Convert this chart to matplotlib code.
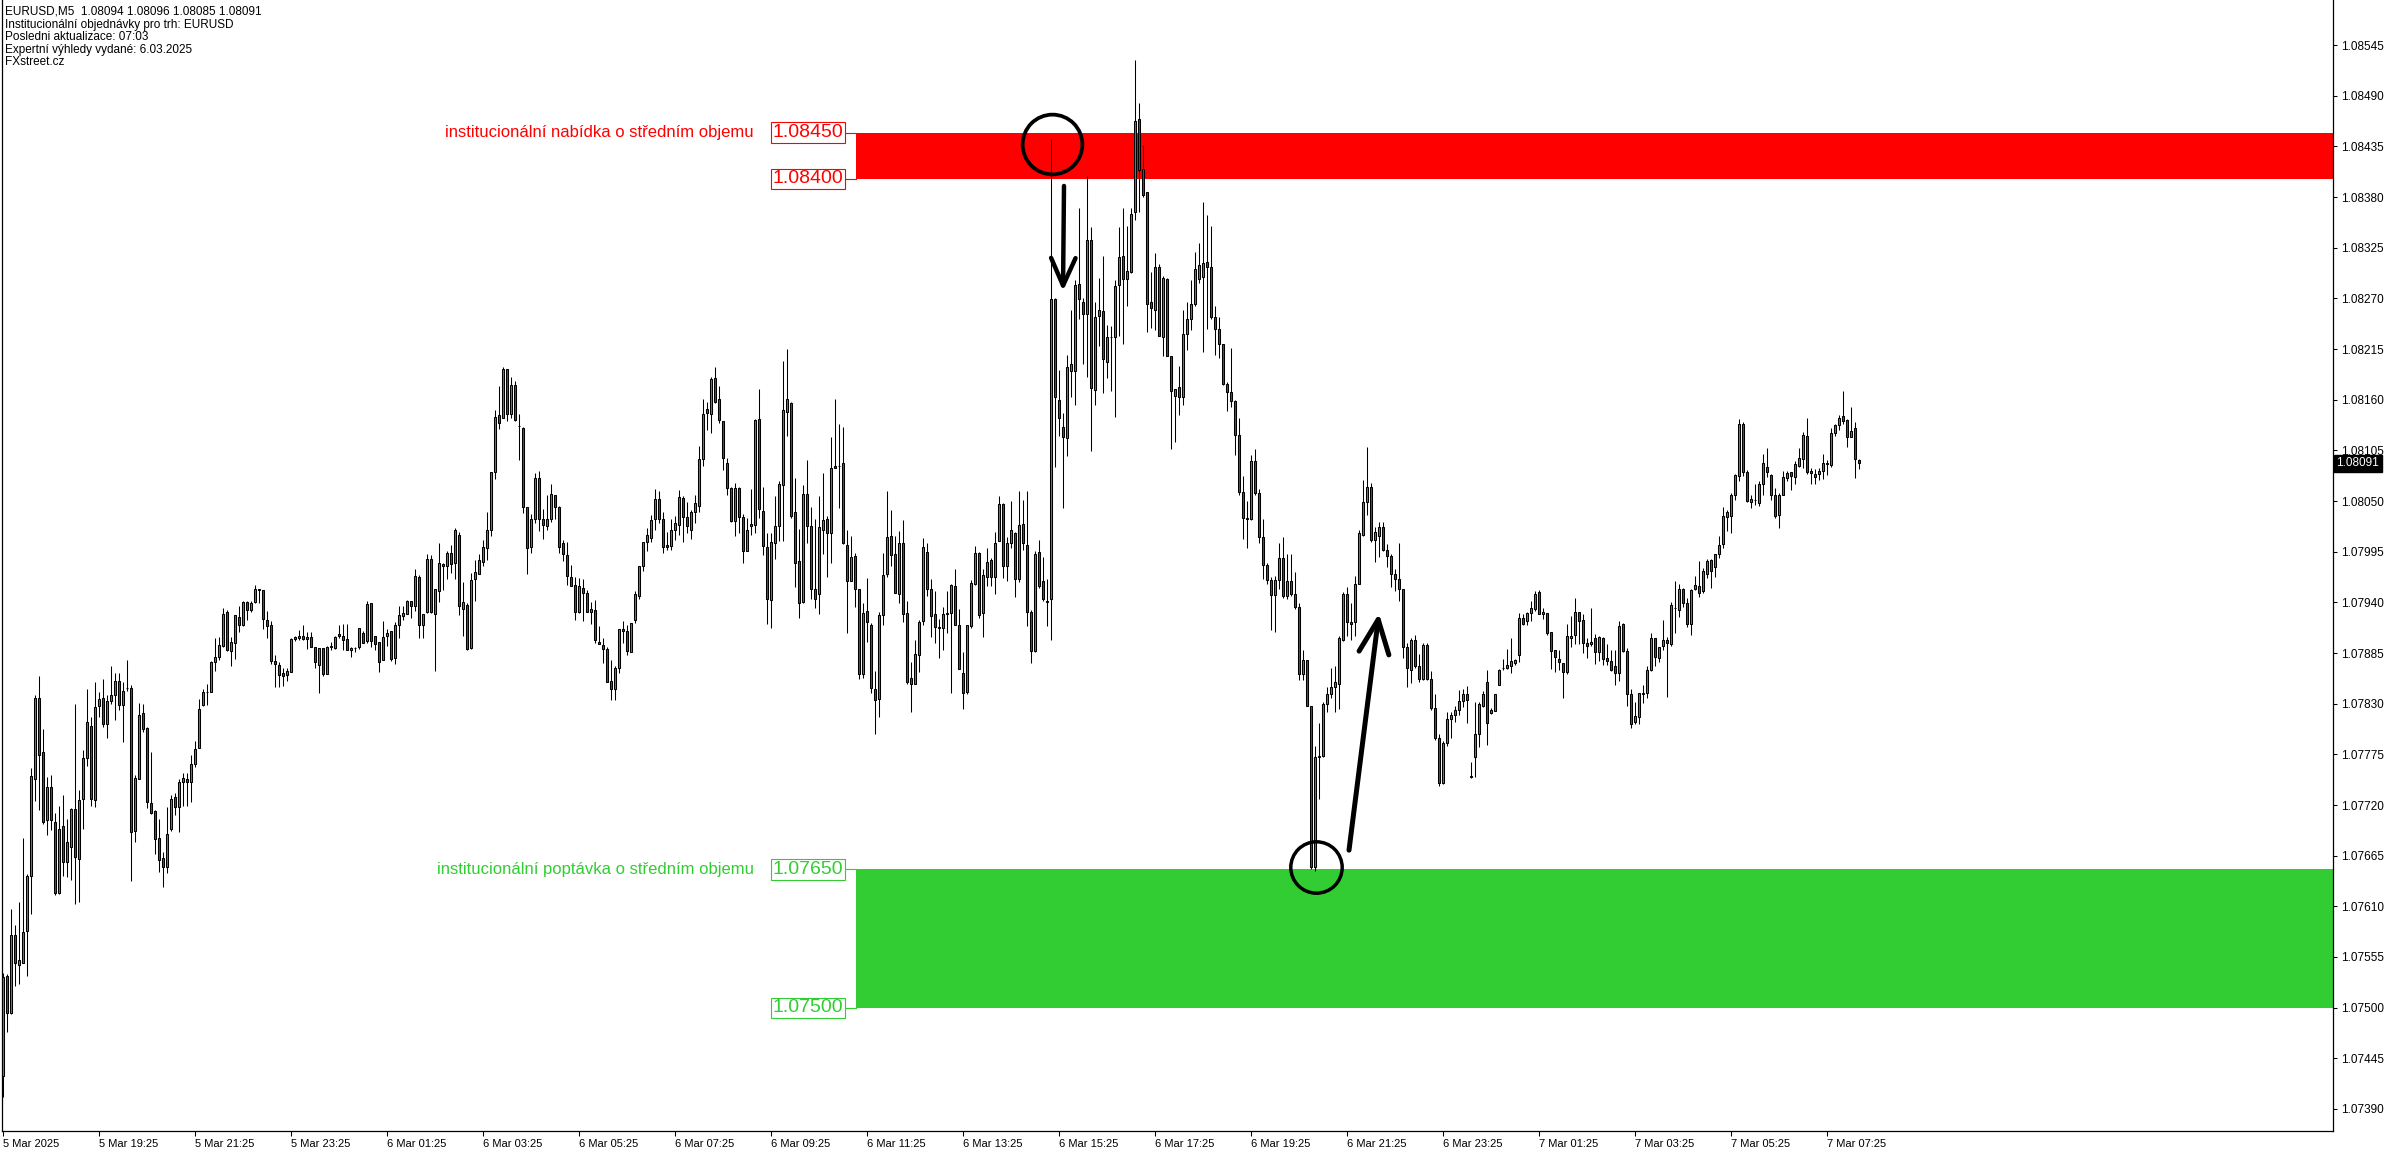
import matplotlib
matplotlib.use("Agg")
import matplotlib.pyplot as plt
import matplotlib.transforms as mtransforms
from matplotlib.patches import Rectangle
import numpy as np

plt.rcParams["font.family"] = ["Liberation Sans", "DejaVu Sans"]

# EURUSD M5 bars, 5 Mar 2025 17:25 onwards.
# values are points above 1.0:  price = 1 + pts / 100000
OPEN = [
    7426, 7534, 7494, 7579, 7546, 7549, 7583, 7643, 7748, 7836,
    7777, 7704, 7740, 7702, 7625, 7697, 7658, 7674, 7716, 7661,
    7727, 7771, 7806, 7725, 7828, 7836, 7808, 7833, 7839, 7855,
    7829, 7847, 7847, 7692, 7748, 7820, 7804, 7722, 7713, 7684,
    7662, 7653, 7694, 7729, 7718, 7745, 7748, 7745, 7765, 7782,
    7829, 7843, 7843, 7875, 7881, 7893, 7929, 7887, 7896, 7924,
    7915, 7940, 7932, 7940, 7955, 7953, 7921, 7915, 7876, 7872,
    7863, 7861, 7864, 7900, 7901, 7903, 7900, 7902, 7892, 7872,
    7890, 7862, 7892, 7890, 7906, 7904, 7900, 7888, 7890, 7892,
    7907, 7898, 7939, 7904, 7897, 7877, 7903, 7909, 7880, 7915,
    7925, 7927, 7942, 7936, 7968, 7915, 7929, 7987, 7927, 7952,
    7982, 7979, 7994, 7983, 8013, 7933, 7937, 7890, 7965, 7971,
    7984, 7999, 8019, 8081, 8143, 8140, 8193, 8145, 8176, 8131,
    8129, 8043, 8000, 8030, 8075, 8030, 8023, 8031, 8057, 8044,
    8004, 7991, 7968, 7959, 7929, 7956, 7950, 7929, 7932, 7897,
    7894, 7889, 7855, 7846, 7869, 7911, 7909, 7886, 7921, 7947,
    7979, 8005, 8010, 8030, 8052, 8030, 8002, 8001, 8019, 8024,
    8053, 8033, 8019, 8038, 8045, 8096, 8150, 8145, 8184, 8161,
    8137, 8091, 8064, 8028, 8064, 8033, 7996, 8023, 8024, 8139,
    8039, 8000, 7943, 8004, 8023, 8067, 8147, 8156, 8038, 7985,
    7940, 8058, 8023, 7955, 7949, 8018, 8030, 8015, 8088, 8088,
    8091, 8002, 7963, 7990, 7954, 7862, 7931, 7915, 7846, 7835,
    7926, 7971, 8012, 7993, 7949, 8004, 7928, 7858, 7851, 7883,
    7920, 7995, 7955, 7927, 7913, 7912, 7927, 7928, 7958, 7915,
    7863, 7843, 7914, 7960, 7994, 7928, 7968, 7986, 7968, 8007,
    8047, 7979, 8004, 8015, 7965, 8025, 8002, 7929, 7887, 7995,
    7963, 7941, 7944, 8269, 8160, 8130, 8118, 8191, 8191, 8286,
    8266, 8253, 8333, 8170, 8251, 8256, 8201, 8228, 8228, 8284,
    8316, 8291, 8299, 8364, 8465, 8410, 8385, 8266, 8257, 8304,
    8228, 8291, 8207, 8164, 8174, 8163, 8231, 8248, 8264, 8291,
    8293, 8309, 8304, 8250, 8237, 8221, 8177, 8168, 8159, 8122,
    8060, 8032, 8030, 8093, 8059, 8011, 7980, 7964, 7948, 7964,
    7988, 7947, 7963, 7949, 7935, 7862, 7877, 7828, 7653, 7772,
    7773, 7830, 7841, 7848, 7851, 7899, 7949, 7919, 7919, 7960,
    8013, 8049, 8065, 8008, 8012, 8022, 7997, 7990, 7971, 7965,
    7955, 7892, 7867, 7899, 7871, 7857, 7894, 7857, 7825, 7793,
    7744, 7787, 7813, 7818, 7823, 7833, 7841, 7752, 7772, 7797,
    7828, 7853, 7820, 7822, 7850, 7869, 7869, 7871, 7874, 7883,
    7923, 7920, 7928, 7933, 7951, 7927, 7928, 7908, 7888, 7878,
    7874, 7864, 7901, 7905, 7929, 7921, 7896, 7895, 7901, 7886,
    7901, 7880, 7876, 7871, 7863, 7916, 7887, 7840, 7810, 7816,
    7841, 7842, 7867, 7901, 7880, 7893, 7899, 7895, 7934, 7932,
    7955, 7939, 7917, 7954, 7958, 7952, 7971, 7986, 7978, 7993,
    8003, 8033, 8034, 8056, 8077, 8134, 8082, 8049, 8051, 8048,
    8068, 8087, 8078, 8056, 8035, 8057, 8075, 8081, 8076, 8088,
    8096, 8121, 8083, 8079, 8079, 8083, 8090, 8089, 8124, 8132,
    8142, 8138, 8120, 8129, 8094,
]
HIGH = [
    7538, 7536, 7607, 7590, 7615, 7684, 7645, 7760, 7839, 7860,
    7803, 7750, 7753, 7711, 7719, 7731, 7705, 7717, 7830, 7736,
    7780, 7846, 7815, 7854, 7843, 7857, 7839, 7871, 7863, 7863,
    7854, 7877, 7850, 7753, 7831, 7830, 7805, 7777, 7715, 7705,
    7669, 7718, 7731, 7733, 7748, 7755, 7755, 7774, 7790, 7835,
    7846, 7851, 7876, 7901, 7902, 7934, 7932, 7902, 7926, 7936,
    7942, 7941, 7941, 7959, 7955, 7953, 7931, 7920, 7883, 7875,
    7869, 7869, 7901, 7904, 7910, 7915, 7908, 7908, 7892, 7890,
    7890, 7893, 7897, 7904, 7915, 7916, 7917, 7892, 7892, 7912,
    7909, 7942, 7939, 7904, 7897, 7920, 7911, 7909, 7919, 7936,
    7936, 7943, 7942, 7976, 7970, 7927, 7992, 7991, 7955, 8004,
    7983, 7996, 8002, 8021, 8016, 7962, 7939, 7972, 7986, 7992,
    8008, 8038, 8082, 8149, 8175, 8196, 8193, 8185, 8180, 8145,
    8130, 8043, 8036, 8080, 8083, 8041, 8057, 8069, 8057, 8045,
    8008, 8005, 7980, 7967, 7966, 7965, 7953, 7940, 7943, 7914,
    7901, 7891, 7877, 7871, 7911, 7920, 7915, 7918, 7952, 7979,
    8005, 8021, 8035, 8063, 8061, 8038, 8016, 8031, 8034, 8062,
    8055, 8049, 8040, 8057, 8110, 8161, 8157, 8185, 8195, 8175,
    8137, 8097, 8065, 8070, 8065, 8036, 8032, 8063, 8139, 8172,
    8065, 8015, 8015, 8055, 8072, 8202, 8215, 8158, 8075, 8020,
    8067, 8094, 8044, 8030, 8055, 8080, 8034, 8119, 8161, 8134,
    8130, 8019, 8012, 7994, 7954, 7939, 7966, 7918, 7866, 7929,
    7994, 8061, 8040, 8012, 8017, 8029, 7941, 7875, 7899, 7921,
    8010, 8004, 7965, 7952, 7922, 7935, 7952, 7960, 7976, 7933,
    7886, 7915, 7964, 8001, 7995, 7976, 7999, 7988, 8016, 8055,
    8048, 8011, 8050, 8016, 8061, 8051, 8061, 7932, 7996, 8008,
    7989, 7965, 8443, 8270, 8192, 8146, 8209, 8257, 8290, 8368,
    8270, 8403, 8348, 8266, 8292, 8316, 8241, 8240, 8290, 8348,
    8368, 8349, 8368, 8529, 8482, 8437, 8385, 8299, 8319, 8307,
    8294, 8292, 8207, 8172, 8197, 8257, 8266, 8290, 8320, 8330,
    8375, 8361, 8349, 8262, 8250, 8221, 8179, 8216, 8160, 8140,
    8077, 8050, 8100, 8106, 8063, 8031, 7983, 7968, 7969, 8004,
    8011, 7993, 7992, 7973, 7939, 7888, 7877, 7828, 7784, 7809,
    7832, 7848, 7869, 7871, 7904, 7951, 7957, 7939, 7969, 8019,
    8073, 8109, 8070, 8022, 8027, 8027, 8003, 7992, 7976, 8004,
    7955, 7896, 7901, 7905, 7884, 7896, 7896, 7866, 7840, 7797,
    7789, 7821, 7821, 7827, 7845, 7846, 7849, 7767, 7832, 7832,
    7844, 7867, 7825, 7841, 7868, 7878, 7889, 7901, 7878, 7928,
    7927, 7929, 7941, 7952, 7953, 7934, 7928, 7908, 7888, 7888,
    7874, 7916, 7925, 7945, 7929, 7927, 7901, 7934, 7906, 7904,
    7902, 7895, 7888, 7888, 7920, 7918, 7890, 7846, 7832, 7842,
    7850, 7871, 7907, 7901, 7892, 7921, 7902, 7940, 7963, 7960,
    7956, 7945, 7955, 7969, 7985, 7977, 7987, 7987, 7993, 8012,
    8044, 8040, 8059, 8079, 8139, 8136, 8084, 8056, 8068, 8072,
    8101, 8108, 8079, 8064, 8059, 8083, 8083, 8082, 8093, 8108,
    8125, 8140, 8086, 8085, 8086, 8101, 8094, 8129, 8134, 8143,
    8169, 8139, 8152, 8136, 8096,
]
LOW = [
    7403, 7474, 7493, 7523, 7526, 7548, 7534, 7602, 7724, 7715,
    7699, 7687, 7693, 7622, 7623, 7643, 7642, 7639, 7612, 7615,
    7694, 7762, 7719, 7718, 7815, 7805, 7793, 7830, 7812, 7823,
    7788, 7844, 7638, 7680, 7748, 7799, 7717, 7710, 7667, 7647,
    7631, 7646, 7692, 7709, 7691, 7719, 7719, 7723, 7761, 7782,
    7828, 7829, 7843, 7865, 7877, 7892, 7887, 7871, 7879, 7908,
    7914, 7921, 7929, 7939, 7939, 7911, 7901, 7873, 7848, 7848,
    7849, 7855, 7864, 7898, 7899, 7899, 7889, 7892, 7869, 7842,
    7860, 7862, 7888, 7889, 7901, 7888, 7888, 7881, 7886, 7889,
    7896, 7896, 7892, 7888, 7864, 7877, 7893, 7876, 7873, 7901,
    7921, 7927, 7923, 7931, 7901, 7901, 7928, 7928, 7865, 7940,
    7953, 7965, 7972, 7965, 7926, 7904, 7888, 7889, 7941, 7971,
    7979, 7986, 8012, 8074, 8128, 8140, 8137, 8140, 8137, 8094,
    8037, 7971, 7994, 8026, 8017, 8009, 8019, 8027, 8031, 7994,
    7985, 7959, 7958, 7921, 7928, 7920, 7929, 7917, 7896, 7895,
    7874, 7854, 7834, 7834, 7863, 7896, 7883, 7886, 7918, 7944,
    7974, 7996, 8006, 8019, 8026, 7994, 7997, 7997, 8008, 8013,
    8006, 8015, 8009, 8026, 8038, 8088, 8127, 8124, 8156, 8135,
    8084, 8056, 8027, 8012, 8015, 7983, 7996, 8013, 8015, 8032,
    7991, 7916, 7912, 7987, 8007, 8007, 8121, 8032, 7957, 7923,
    7939, 8004, 7944, 7934, 7927, 7993, 7968, 7983, 8086, 8042,
    8003, 7907, 7963, 7935, 7857, 7858, 7897, 7842, 7797, 7816,
    7915, 7968, 7979, 7950, 7939, 7919, 7851, 7821, 7851, 7864,
    7915, 7947, 7902, 7896, 7880, 7888, 7907, 7842, 7915, 7868,
    7824, 7840, 7912, 7959, 7923, 7902, 7958, 7958, 7949, 8007,
    7966, 7963, 7999, 7946, 7962, 7997, 7914, 7874, 7886, 7956,
    7942, 7914, 7899, 8087, 8121, 8042, 8099, 8163, 8154, 8248,
    8199, 8185, 8104, 8154, 8218, 8167, 8184, 8169, 8141, 8229,
    8220, 8262, 8297, 8355, 8364, 8380, 8234, 8238, 8236, 8229,
    8207, 8207, 8106, 8114, 8143, 8154, 8214, 8236, 8262, 8287,
    8212, 8237, 8248, 8208, 8205, 8176, 8148, 8152, 8100, 8057,
    8009, 7999, 8029, 8056, 8004, 7965, 7960, 7910, 7908, 7955,
    7945, 7944, 7947, 7933, 7856, 7856, 7827, 7651, 7648, 7727,
    7772, 7821, 7836, 7821, 7824, 7898, 7903, 7899, 7904, 7960,
    8012, 8035, 8005, 7984, 7989, 7996, 7978, 7957, 7952, 7942,
    7880, 7848, 7852, 7869, 7853, 7856, 7856, 7823, 7791, 7741,
    7743, 7784, 7793, 7810, 7818, 7826, 7809, 7749, 7750, 7783,
    7826, 7785, 7819, 7822, 7850, 7867, 7868, 7863, 7872, 7875,
    7915, 7915, 7920, 7931, 7927, 7922, 7905, 7868, 7864, 7867,
    7836, 7862, 7892, 7895, 7895, 7885, 7880, 7893, 7873, 7876,
    7872, 7872, 7866, 7850, 7855, 7886, 7827, 7804, 7808, 7808,
    7831, 7836, 7866, 7871, 7875, 7888, 7837, 7893, 7907, 7924,
    7935, 7913, 7905, 7953, 7946, 7950, 7966, 7956, 7967, 7988,
    7999, 8017, 8015, 8051, 8072, 8077, 8049, 8042, 8046, 8045,
    8056, 8076, 8051, 8032, 8021, 8056, 8072, 8062, 8068, 8087,
    8086, 8079, 8068, 8068, 8073, 8074, 8078, 8087, 8121, 8127,
    8134, 8109, 8119, 8075, 8085,
]
CLOSE = [
    7533, 7494, 7579, 7549, 7552, 7582, 7643, 7751, 7836, 7774,
    7702, 7739, 7704, 7625, 7694, 7658, 7680, 7716, 7664, 7725,
    7771, 7810, 7726, 7826, 7835, 7808, 7833, 7839, 7855, 7829,
    7844, 7847, 7691, 7749, 7818, 7803, 7723, 7711, 7683, 7660,
    7653, 7689, 7727, 7718, 7745, 7749, 7745, 7765, 7781, 7824,
    7843, 7843, 7875, 7881, 7894, 7927, 7888, 7897, 7926, 7915,
    7940, 7932, 7939, 7955, 7953, 7922, 7914, 7876, 7873, 7861,
    7860, 7866, 7900, 7902, 7904, 7900, 7902, 7892, 7875, 7890,
    7862, 7892, 7893, 7902, 7903, 7899, 7888, 7890, 7890, 7912,
    7896, 7938, 7898, 7895, 7875, 7902, 7907, 7878, 7915, 7926,
    7928, 7942, 7936, 7969, 7915, 7927, 7987, 7929, 7955, 7983,
    7979, 7994, 7982, 8019, 7936, 7940, 7889, 7964, 7973, 7986,
    8000, 8019, 8082, 8141, 8135, 8193, 8144, 8176, 8138, 8131,
    8043, 7999, 8031, 8075, 8030, 8024, 8031, 8058, 8044, 8000,
    7992, 7969, 7958, 7930, 7958, 7950, 7930, 7933, 7899, 7895,
    7889, 7854, 7846, 7869, 7911, 7909, 7887, 7918, 7949, 7979,
    8005, 8013, 8029, 8052, 8031, 8000, 8000, 8019, 8026, 8054,
    8033, 8023, 8038, 8048, 8096, 8145, 8146, 8183, 8158, 8138,
    8097, 8064, 8028, 8064, 8033, 7996, 8019, 8025, 8138, 8041,
    8001, 7944, 8005, 8023, 8069, 8149, 8161, 8034, 7983, 7939,
    8058, 8023, 7955, 7944, 8022, 8029, 8015, 8086, 8086, 8088,
    8004, 7963, 7989, 7955, 7862, 7928, 7919, 7847, 7834, 7926,
    7970, 8011, 7991, 7950, 8004, 7927, 7854, 7851, 7884, 7919,
    8000, 7954, 7925, 7913, 7912, 7927, 7928, 7959, 7915, 7868,
    7842, 7915, 7961, 7994, 7926, 7970, 7984, 7968, 8004, 8047,
    7979, 8004, 8018, 7965, 8024, 8004, 7929, 7887, 7993, 7958,
    7944, 7940, 8269, 8163, 8140, 8119, 8195, 8199, 8285, 8269,
    8253, 8333, 8173, 8250, 8257, 8204, 8228, 8228, 8283, 8315,
    8291, 8300, 8362, 8463, 8409, 8382, 8264, 8259, 8304, 8229,
    8292, 8207, 8169, 8172, 8163, 8231, 8248, 8264, 8302, 8306,
    8308, 8304, 8250, 8237, 8221, 8177, 8168, 8159, 8122, 8060,
    8032, 8031, 8093, 8059, 8011, 7980, 7964, 7948, 7964, 7988,
    7947, 7963, 7949, 7935, 7862, 7877, 7828, 7653, 7772, 7773,
    7830, 7841, 7848, 7853, 7901, 7949, 7919, 7917, 7960, 8015,
    8049, 8065, 8008, 8016, 8022, 7997, 7990, 7971, 7965, 7955,
    7892, 7869, 7899, 7871, 7857, 7894, 7857, 7825, 7793, 7744,
    7787, 7813, 7818, 7823, 7833, 7840, 7834, 7750, 7797, 7830,
    7841, 7809, 7823, 7841, 7867, 7869, 7872, 7876, 7877, 7923,
    7917, 7928, 7934, 7949, 7927, 7930, 7907, 7887, 7881, 7875,
    7864, 7903, 7903, 7929, 7920, 7896, 7893, 7897, 7886, 7902,
    7879, 7876, 7867, 7863, 7914, 7887, 7840, 7808, 7817, 7842,
    7842, 7867, 7901, 7881, 7892, 7899, 7896, 7937, 7934, 7954,
    7939, 7917, 7953, 7959, 7950, 7974, 7985, 7974, 7992, 8002,
    8034, 8038, 8056, 8078, 8134, 8082, 8050, 8052, 8051, 8069,
    8091, 8081, 8057, 8034, 8057, 8076, 8080, 8077, 8090, 8097,
    8122, 8082, 8080, 8076, 8083, 8091, 8091, 8124, 8133, 8140,
    8137, 8119, 8126, 8096, 8091,
]

TIME_LABELS = [
    "5 Mar 2025", "5 Mar 19:25", "5 Mar 21:25", "5 Mar 23:25",
    "6 Mar 01:25", "6 Mar 03:25", "6 Mar 05:25", "6 Mar 07:25",
    "6 Mar 09:25", "6 Mar 11:25", "6 Mar 13:25", "6 Mar 15:25",
    "6 Mar 17:25", "6 Mar 19:25", "6 Mar 21:25", "6 Mar 23:25",
    "7 Mar 01:25", "7 Mar 03:25", "7 Mar 05:25", "7 Mar 07:25",
]
TIME_LABEL_BARS = [0, 24, 48, 72, 96, 120, 144, 168, 192, 216,
                   240, 264, 288, 312, 336, 360, 384, 408, 432, 456]

PRICE_TICKS = [1.07390, 1.07445, 1.07500, 1.07555, 1.07610, 1.07665,
               1.07720, 1.07775, 1.07830, 1.07885, 1.07940, 1.07995,
               1.08050, 1.08105, 1.08160, 1.08215, 1.08270, 1.08325,
               1.08380, 1.08435, 1.08490, 1.08545]

HEADER = [
    "EURUSD,M5  1.08094 1.08096 1.08085 1.08091",
    "Institucionální objednávky pro trh: EURUSD",
    "Posledni aktualizace: 07:03",
    "Expertní výhledy vydané: 6.03.2025",
    "FXstreet.cz",
]

SUPPLY_ZONE = (1.08400, 1.08450)
DEMAND_ZONE = (1.07500, 1.07650)
SUPPLY_TEXT = "institucionální nabídka o středním objemu"
DEMAND_TEXT = "institucionální poptávka o středním objemu"
LAST_PRICE = 1.08091

BULL = "#2ea52e"
BEAR = "#c81e1e"
ZONE_RED = "#ff0000"
ZONE_GREEN = "#32cd32"

W, H = 2396, 1154


def px2bar(px):
    # horizontal pixel -> bar index (bar i sits at 3 + 4*i px)
    return (px - 3) / 4.0


o = 1 + np.array(OPEN) / 1e5
h = 1 + np.array(HIGH) / 1e5
l = 1 + np.array(LOW) / 1e5
c = 1 + np.array(CLOSE) / 1e5
h = np.maximum(h, np.maximum(o, c))
l = np.minimum(l, np.minimum(o, c))
x = np.arange(len(c))
up = c >= o

fig = plt.figure(figsize=(W / 100, H / 100), dpi=100)
ax = fig.add_axes([2 / W, 23 / H, 2331 / W, 1131 / H])
ax.set_xlim(-0.25, 582.5)
ax.set_ylim(1.073661, 1.085939)

# zones (behind candles)
zx0 = px2bar(856)
for (lo, hi), col in ((SUPPLY_ZONE, ZONE_RED), (DEMAND_ZONE, ZONE_GREEN)):
    ax.add_patch(Rectangle((zx0, lo), 582.5 - zx0, hi - lo, color=col,
                           lw=0, zorder=1))

# candles
ax.vlines(x, l, h, color="black", lw=0.75, zorder=2)
ax.bar(x[up], (c - o)[up], bottom=o[up], width=0.62, color=BULL,
       edgecolor="black", linewidth=0.75, zorder=3)
ax.bar(x[~up], (o - c)[~up], bottom=c[~up], width=0.62, color=BEAR,
       edgecolor="black", linewidth=0.75, zorder=3)

# zone labels
for (lo, hi), col, txt in ((SUPPLY_ZONE, ZONE_RED, SUPPLY_TEXT),
                           (DEMAND_ZONE, ZONE_GREEN, DEMAND_TEXT)):
    ax.text(px2bar(754), hi, txt, ha="right", va="center", color=col,
            fontsize=12, zorder=5)
    for p in (hi, lo):
        ax.text(px2bar(843), p, f"{p:.5f}", ha="right", va="center",
                color=col, fontsize=14, zorder=5,
                bbox=dict(boxstyle="square,pad=0.08", fc="white", ec=col,
                          lw=0.8))
        ax.plot([px2bar(846), zx0], [p, p], color=col, lw=0.8, zorder=5)

# hand-drawn marks
ax.plot(262.25, 1.08438, marker="o", ms=43, mfc="none", mec="black",
        mew=2.7, zorder=6)
ax.plot(328.25, 1.07653, marker="o", ms=37, mfc="none", mec="black",
        mew=2.5, zorder=6)
ax.annotate("", xy=(265.0, 1.08278), xytext=(265.25, 1.08392),
            arrowprops=dict(arrowstyle="->,head_length=0.9,head_width=0.4",
                            lw=3.2, color="black", shrinkA=0, shrinkB=0,
                            mutation_scale=22), zorder=6)
ax.annotate("", xy=(344.0, 1.07928), xytext=(336.5, 1.07671),
            arrowprops=dict(arrowstyle="->,head_length=0.9,head_width=0.4",
                            lw=3.6, color="black", shrinkA=0, shrinkB=0,
                            mutation_scale=27), zorder=6)

# axes styling
ax.spines["top"].set_visible(False)
for s in ("left", "right", "bottom"):
    ax.spines[s].set_linewidth(0.9)
ax.yaxis.tick_right()
ax.set_yticks(PRICE_TICKS)
ax.set_yticklabels([f"{p:.5f}" for p in PRICE_TICKS])
ax.tick_params(axis="y", direction="out", length=3, width=0.75, pad=3,
               labelsize=8.5)
ax.set_xticks(TIME_LABEL_BARS)
ax.set_xticklabels(TIME_LABELS)
for lbl in ax.get_xticklabels():
    lbl.set_ha("left")
ax.tick_params(axis="x", direction="out", length=3.5, width=0.75, pad=2,
               labelsize=8)

# current price tag
ax.text(1.0015, LAST_PRICE, f"{LAST_PRICE:.5f}",
        transform=mtransforms.blended_transform_factory(ax.transAxes,
                                                        ax.transData),
        ha="left", va="center", color="white", fontsize=8.5, zorder=10,
        bbox=dict(boxstyle="square,pad=0.2", fc="black", ec="black"),
        clip_on=False)

# header text
for i, line in enumerate(HEADER):
    fig.text(5 / W, 1 - (12 + 12.6 * i) / H, line, ha="left", va="center",
             fontsize=8.5)

fig.savefig("out.png", dpi=100)
